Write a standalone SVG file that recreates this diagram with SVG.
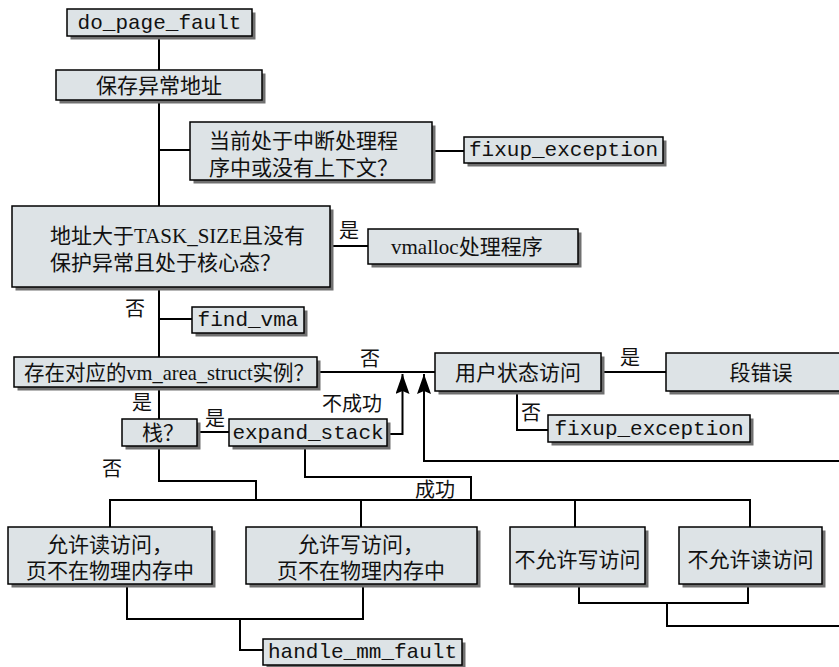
<svg xmlns="http://www.w3.org/2000/svg" width="839" height="667" viewBox="0 0 839 667">
<style>
.box{fill:#dde3e6;stroke:#000;stroke-width:1.5}
.sh{fill:#707070}
.cn{font-family:"Liberation Serif","Noto Sans CJK SC",serif;font-size:21px;fill:#111}
.lb{font-family:"Liberation Serif","Noto Sans CJK SC",serif;font-size:20px;fill:#111;text-anchor:middle}
.mono{font-family:"Liberation Mono",monospace;font-size:21px;fill:#111;text-anchor:middle}
.mid{text-anchor:middle}
.ln{fill:none;stroke:#000;stroke-width:2}
</style>
<defs>
<marker id="ah" viewBox="0 0 20 14" refX="20" refY="7" markerWidth="20" markerHeight="14" orient="auto" markerUnits="userSpaceOnUse">
<path d="M0,0 L20,7 L0,14 L3,7 z" fill="#000"/>
</marker>
</defs>
<rect width="839" height="667" fill="#fff"/>
<g id="connectors">
<path class="ln" d="M159,36 V70 M159,100 V206 M159,287 V357 M159,387 V419"/>
<path class="ln" d="M159,150 H190 M432,151 H464 M330,246 H368 M159,319 H192"/>
<path class="ln" d="M317,372 H435 M601,372 H666"/>
<path class="ln" d="M517,391 V430 H548 M197,432 H229"/>
<path class="ln" d="M387,434 H402.5 V374" marker-end="url(#ah)"/>
<path class="ln" d="M839,461 H424 V374" marker-end="url(#ah)"/>
<path class="ln" d="M305,446 V477 H471 V500 M159,446 V481 H256 V500"/>
<path class="ln" d="M110,527 V500 H750 V527 M361,500 V527 M575,500 V527"/>
<path class="ln" d="M127,584 V619 H363 V584 M240,619 V650 H263"/>
<path class="ln" d="M579,584 V603 H748 V584 M667,603 V626 H839"/>
</g>
<g id="labels">
<text class="lb" x="349" y="238">是</text>
<text class="lb" x="135" y="316">否</text>
<text class="lb" x="370" y="366">否</text>
<text class="lb" x="142" y="410">是</text>
<text class="lb" x="215" y="426">是</text>
<text class="lb" x="352" y="411">不成功</text>
<text class="lb" x="112" y="476">否</text>
<text class="lb" x="630" y="365">是</text>
<text class="lb" x="531" y="420">否</text>
<text class="lb" x="435" y="497">成功</text>
</g>
<g id="n_do_page_fault">
<rect class="sh" x="70.5" y="12.5" width="185" height="27"/>
<rect class="box" x="67" y="9" width="185" height="27"/>
<text class="mono" x="159.5" y="29">do_page_fault</text>
</g>
<g id="n_save_addr">
<rect class="sh" x="59.5" y="73.5" width="206" height="30"/>
<rect class="box" x="56" y="70" width="206" height="30"/>
<text class="cn mid" x="159" y="93">保存异常地址</text>
</g>
<g id="n_interrupt">
<rect class="sh" x="193.5" y="125.5" width="242" height="58"/>
<rect class="box" x="190" y="122" width="242" height="58"/>
<text class="cn" x="209" y="148">当前处于中断处理程</text>
<text class="cn" x="209" y="175">序中或没有上下文？</text>
</g>
<g id="n_fixup1">
<rect class="sh" x="467.5" y="140.5" width="199" height="26"/>
<rect class="box" x="464" y="137" width="199" height="26"/>
<text class="mono" x="563.5" y="156">fixup_exception</text>
</g>
<g id="n_task_size">
<rect class="sh" x="15.5" y="209.5" width="318" height="81"/>
<rect class="box" x="12" y="206" width="318" height="81"/>
<text class="cn" x="50" y="243">地址大于TASK_SIZE且没有</text>
<text class="cn" x="50" y="270">保护异常且处于核心态？</text>
</g>
<g id="n_vmalloc">
<rect class="sh" x="371.5" y="232.5" width="210" height="35"/>
<rect class="box" x="368" y="229" width="210" height="35"/>
<text class="cn" x="391" y="254">vmalloc处理程序</text>
</g>
<g id="n_find_vma">
<rect class="sh" x="195.5" y="310.5" width="112" height="26"/>
<rect class="box" x="192" y="307" width="112" height="26"/>
<text class="mono" x="248" y="326">find_vma</text>
</g>
<g id="n_vm_area">
<rect class="sh" x="17.5" y="360.5" width="303" height="30"/>
<rect class="box" x="14" y="357" width="303" height="30"/>
<text class="cn" x="24" y="380" textLength="290" lengthAdjust="spacingAndGlyphs">存在对应的vm_area_struct实例？</text>
</g>
<g id="n_user">
<rect class="sh" x="438.5" y="356.5" width="166" height="38"/>
<rect class="box" x="435" y="353" width="166" height="38"/>
<text class="cn mid" x="518" y="380">用户状态访问</text>
</g>
<g id="n_segv">
<rect class="sh" x="669.5" y="356.5" width="190" height="38"/>
<rect class="box" x="666" y="353" width="190" height="38"/>
<text class="cn mid" x="761" y="380">段错误</text>
</g>
<g id="n_fixup2">
<rect class="sh" x="551.5" y="418.5" width="202" height="27"/>
<rect class="box" x="548" y="415" width="202" height="27"/>
<text class="mono" x="649" y="435">fixup_exception</text>
</g>
<g id="n_stack">
<rect class="sh" x="125.5" y="422.5" width="75" height="27"/>
<rect class="box" x="122" y="419" width="75" height="27"/>
<text class="cn mid" x="163" y="440">栈？</text>
</g>
<g id="n_expand_stack">
<rect class="sh" x="232.5" y="422.5" width="158" height="27"/>
<rect class="box" x="229" y="419" width="158" height="27"/>
<text class="mono" x="308" y="439">expand_stack</text>
</g>
<g id="n_read_ok">
<rect class="sh" x="11.5" y="530.5" width="204" height="57"/>
<rect class="box" x="8" y="527" width="204" height="57"/>
<text class="cn" x="47" y="552">允许读访问，</text>
<text class="cn mid" x="110" y="578">页不在物理内存中</text>
</g>
<g id="n_write_ok">
<rect class="sh" x="249.5" y="530.5" width="231" height="57"/>
<rect class="box" x="246" y="527" width="231" height="57"/>
<text class="cn" x="298" y="552">允许写访问，</text>
<text class="cn mid" x="361" y="578">页不在物理内存中</text>
</g>
<g id="n_no_write">
<rect class="sh" x="513.5" y="530.5" width="135" height="57"/>
<rect class="box" x="510" y="527" width="135" height="57"/>
<text class="cn mid" x="577.5" y="567">不允许写访问</text>
</g>
<g id="n_no_read">
<rect class="sh" x="682.5" y="530.5" width="143" height="57"/>
<rect class="box" x="679" y="527" width="143" height="57"/>
<text class="cn mid" x="750.5" y="567">不允许读访问</text>
</g>
<g id="n_handle_mm_fault">
<rect class="sh" x="266.5" y="642.5" width="199" height="26"/>
<rect class="box" x="263" y="639" width="199" height="26"/>
<text class="mono" x="362.5" y="658">handle_mm_fault</text>
</g>
</svg>
